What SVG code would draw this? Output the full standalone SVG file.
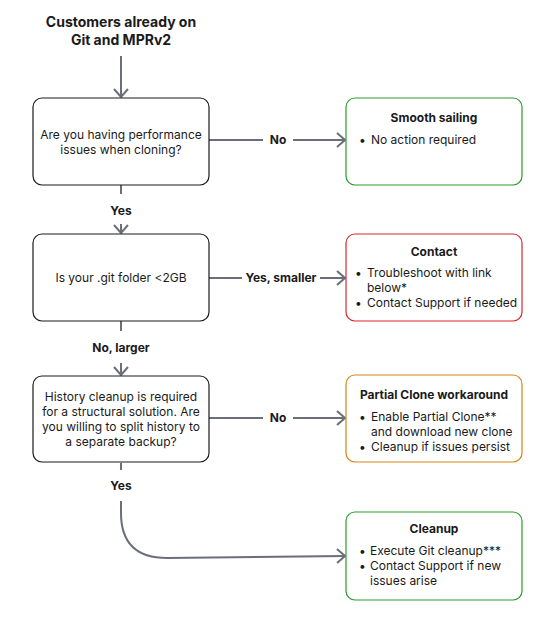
<svg xmlns="http://www.w3.org/2000/svg" width="555" height="630" viewBox="0 0 555 630">
<defs>
<marker id="arr" viewBox="0 0 12 16" refX="11" refY="8" markerWidth="12" markerHeight="16" markerUnits="userSpaceOnUse" orient="auto">
<path d="M3,1 L11,8 L3,15" fill="none" stroke="#6b6f7a" stroke-width="2"/>
</marker>
</defs>
<style>
text{font-family:Inter,"Liberation Sans",sans-serif;fill:#1a1a1a}
.t{font-size:12px}
.b{font-size:12px;font-weight:bold}
.h{font-size:14px;font-weight:bold}
.c{text-anchor:middle}
.q{fill:#fff;stroke:#1a1a1a;stroke-width:1.2}
.g{fill:#fff;stroke:#2a9d2a;stroke-width:1.2}
.r{fill:#fff;stroke:#d9262f;stroke-width:1.2}
.o{fill:#fff;stroke:#d6840f;stroke-width:1.2}
.e{fill:none;stroke:#6b6f7a;stroke-width:2}
.lbl{font-size:12px;font-weight:bold;text-anchor:middle}
</style>
<rect width="555" height="630" fill="#fff"/>
<g id="connectors">
<path class="e" d="M121,56 V97" marker-end="url(#arr)"/>
<path class="e" d="M209,140 H263 M293,140 H345" marker-end="url(#arr)"/>
<text class="lbl" x="278" y="144">No</text>
<path class="e" d="M121,185 V194"/>
<text class="lbl" x="121" y="215">Yes</text>
<path class="e" d="M121,224 V233" marker-end="url(#arr)"/>
<path class="e" d="M209,278 H242 M320,278 H345" marker-end="url(#arr)"/>
<text class="lbl" x="281" y="282">Yes, smaller</text>
<path class="e" d="M121,321 V331"/>
<text class="lbl" x="121" y="352">No, larger</text>
<path class="e" d="M121,363 V375" marker-end="url(#arr)"/>
<path class="e" d="M209,418 H263 M293,418 H345" marker-end="url(#arr)"/>
<text class="lbl" x="278" y="422">No</text>
<path class="e" d="M121,463 V470"/>
<text class="lbl" x="121" y="490">Yes</text>
<path class="e" d="M121,501 V513 Q121,558 167,558 L345,556" marker-end="url(#arr)"/>
</g>
<g id="title">
<text class="h c" x="121" y="27">Customers already on</text>
<text class="h c" x="121" y="45">Git and MPRv2</text>
</g>
<g id="q1">
<rect class="q" x="33" y="98" width="176" height="87" rx="9"/>
<text class="t c" x="121" y="139">Are you having performance</text>
<text class="t c" x="121" y="154">issues when cloning?</text>
</g>
<g id="q2">
<rect class="q" x="33" y="234" width="176" height="87" rx="9"/>
<text class="t c" x="121" y="282">Is your .git folder &lt;2GB</text>
</g>
<g id="q3">
<rect class="q" x="33" y="376" width="176" height="86" rx="9"/>
<text class="t c" x="121" y="401">History cleanup is required</text>
<text class="t c" x="121" y="416">for a structural solution. Are</text>
<text class="t c" x="121" y="431">you willing to split history to</text>
<text class="t c" x="121" y="446">a separate backup?</text>
</g>
<g id="smooth">
<rect class="g" x="346" y="98" width="176" height="87" rx="9"/>
<text class="b c" x="434" y="122">Smooth sailing</text>
<text class="t" x="359" y="144">•</text>
<text class="t" x="371" y="144">No action required</text>
</g>
<g id="contact">
<rect class="r" x="346" y="234" width="176" height="87" rx="9"/>
<text class="b c" x="434" y="256">Contact</text>
<text class="t" x="355" y="277">•</text>
<text class="t" x="367" y="277">Troubleshoot with link</text>
<text class="t" x="367" y="292">below*</text>
<text class="t" x="355" y="307">•</text>
<text class="t" x="367" y="307">Contact Support if needed</text>
</g>
<g id="partial">
<rect class="o" x="346" y="375" width="176" height="87" rx="9"/>
<text class="b c" x="434" y="399">Partial Clone workaround</text>
<text class="t" x="359" y="421">•</text>
<text class="t" x="371" y="421">Enable Partial Clone**</text>
<text class="t" x="371" y="436">and download new clone</text>
<text class="t" x="359" y="451">•</text>
<text class="t" x="371" y="451">Cleanup if issues persist</text>
</g>
<g id="cleanup">
<rect class="g" x="346" y="512" width="176" height="88" rx="9"/>
<text class="b c" x="434" y="533">Cleanup</text>
<text class="t" x="359" y="555">•</text>
<text class="t" x="370" y="555">Execute Git cleanup***</text>
<text class="t" x="359" y="570">•</text>
<text class="t" x="370" y="570">Contact Support if new</text>
<text class="t" x="370" y="585">issues arise</text>
</g>
</svg>
